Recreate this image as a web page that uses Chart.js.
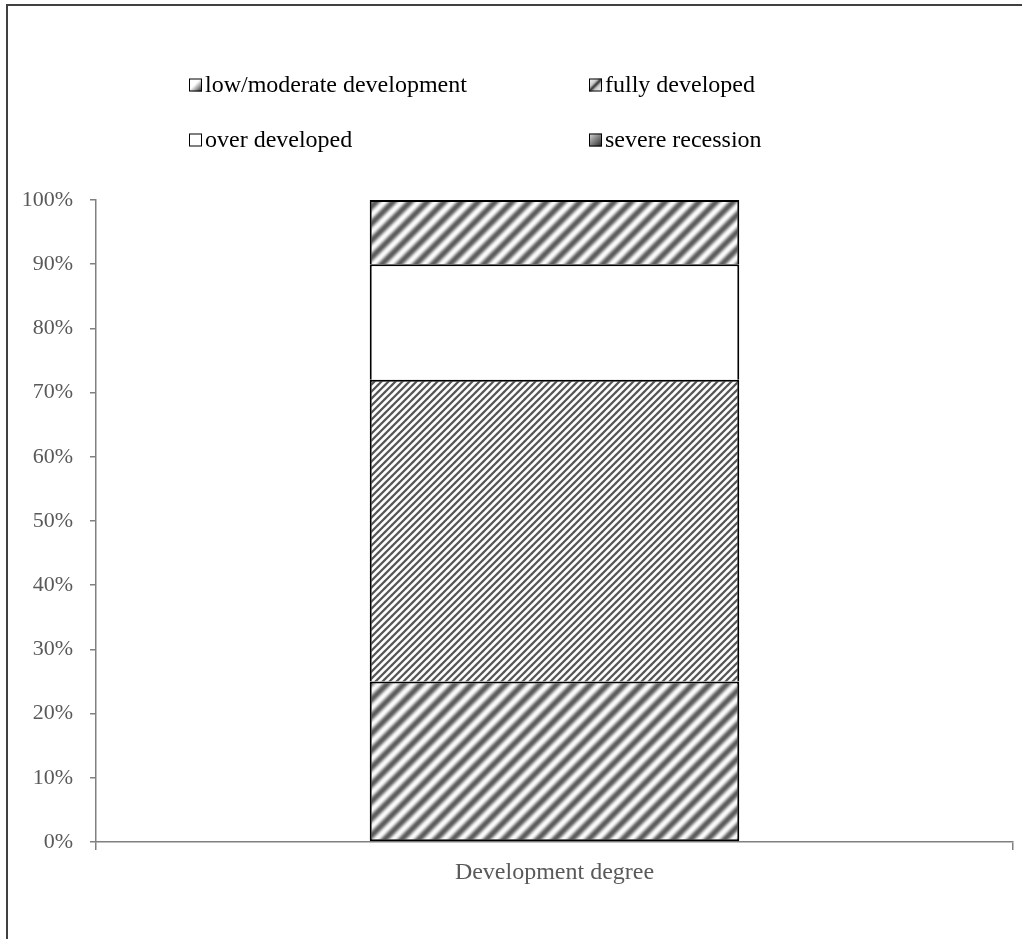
<!DOCTYPE html>
<html>
<head>
<meta charset="utf-8">
<script src="https://cdn.jsdelivr.net/npm/chart.js@4/dist/chart.umd.min.js"></script>
<style>
  html, body { margin: 0; padding: 0; background: #fff; }
  #wrap { width: 1022px; height: 939px; position: relative; }
</style>
</head>
<body>
<div id="wrap"><canvas id="c" width="1022" height="939"></canvas></div>
<script>
// Category and stacked shares (%)
const categories = ['Development degree'];
const seriesLabels = ['low/moderate development', 'fully developed', 'over developed', 'severe recession'];
const lowModerate = [25];
const fullyDeveloped = [47];
const overDeveloped = [18];
const severeRecession = [10];

const FONT = '"Liberation Serif", "Times New Roman", serif';

// Diagonal "/" stripe pattern with soft edges, built on an oversized tile then cropped
function stripePattern(period, lineWidth, color, blur) {
  const big = document.createElement('canvas');
  big.width = big.height = period * 3;
  const b = big.getContext('2d');
  b.fillStyle = '#fff';
  b.fillRect(0, 0, big.width, big.height);
  if (blur) b.filter = 'blur(' + blur + 'px)';
  b.strokeStyle = color;
  b.lineWidth = lineWidth;
  for (let k = -4; k <= 4; k++) {
    b.beginPath();
    b.moveTo(k * period, period * 3);
    b.lineTo(k * period + period * 3, 0);
    b.stroke();
  }
  const tile = document.createElement('canvas');
  tile.width = tile.height = period;
  tile.getContext('2d').drawImage(big, period, period, period, period, 0, 0, period, period);
  return tile.getContext('2d').createPattern(tile, 'repeat');
}

const wideStripes = stripePattern(17, 6, '#555', 1.4);
const fineStripes = stripePattern(7, 2.3, '#555', 0.6);

// Outer frame (top and left edges)
const framePlugin = {
  id: 'frame',
  beforeDraw(chart) {
    const ctx = chart.ctx;
    ctx.save();
    ctx.fillStyle = '#fff';
    ctx.fillRect(0, 0, chart.width, chart.height);
    ctx.strokeStyle = '#404040';
    ctx.lineWidth = 2;
    ctx.beginPath();
    ctx.moveTo(7, chart.height);
    ctx.lineTo(7, 5);
    ctx.lineTo(chart.width, 5);
    ctx.stroke();
    ctx.restore();
  }
};

// Two-column legend with small shaded swatches
const legendPlugin = {
  id: 'gridLegend',
  afterDraw(chart) {
    const ctx = chart.ctx;
    const cols = [189, 589];
    const rows = [85, 140];
    const box = 13;
    ctx.save();
    ctx.font = '24px ' + FONT;
    ctx.textBaseline = 'middle';
    ctx.textAlign = 'left';
    chart.data.datasets.forEach((ds, i) => {
      const x = cols[i % 2];
      const y = rows[Math.floor(i / 2)];
      const top = y - box / 2;
      let fill = '#fff';
      if (i === 0) {
        const g = ctx.createLinearGradient(x, top, x + box, top + box);
        g.addColorStop(0, '#fff'); g.addColorStop(0.45, '#fff'); g.addColorStop(1, '#222');
        fill = g;
      } else if (i === 1) {
        const g = ctx.createLinearGradient(x, top, x + box, top + box);
        g.addColorStop(0, '#fff'); g.addColorStop(0.35, '#ccc'); g.addColorStop(0.5, '#333');
        g.addColorStop(0.65, '#ccc'); g.addColorStop(1, '#fff');
        fill = g;
      } else if (i === 3) {
        const g = ctx.createLinearGradient(x, top, x + box, top + box);
        g.addColorStop(0, '#ddd'); g.addColorStop(1, '#222');
        fill = g;
      }
      ctx.fillStyle = fill;
      ctx.fillRect(x, top, box, box);
      ctx.strokeStyle = '#000';
      ctx.lineWidth = 1;
      ctx.strokeRect(x + 0.5, top + 0.5, box - 1, box - 1);
      ctx.fillStyle = '#000';
      ctx.fillText(ds.label, x + box + 3, y + 1);
    });
    ctx.restore();
  }
};

// Lower segment draws the full outline; upper segments share its top edge
const baseStyle = { borderColor: '#000', borderWidth: 2,
  categoryPercentage: 1, barPercentage: 0.403 };
const firstStyle = Object.assign({ borderSkipped: false }, baseStyle);
const upperStyle = Object.assign({ borderSkipped: 'bottom' }, baseStyle);

new Chart(document.getElementById('c'), {
  type: 'bar',
  data: {
    labels: categories,
    datasets: [
      Object.assign({ label: seriesLabels[0], data: lowModerate, backgroundColor: wideStripes }, firstStyle),
      Object.assign({ label: seriesLabels[1], data: fullyDeveloped, backgroundColor: fineStripes }, upperStyle),
      Object.assign({ label: seriesLabels[2], data: overDeveloped, backgroundColor: '#fff' }, upperStyle),
      Object.assign({ label: seriesLabels[3], data: severeRecession, backgroundColor: wideStripes }, upperStyle)
    ]
  },
  options: {
    responsive: false,
    animation: false,
    layout: { padding: { top: 200, right: 9, bottom: 0, left: 0 } },
    plugins: { legend: { display: false }, tooltip: { enabled: false } },
    scales: {
      x: {
        stacked: true,
        afterFit(scale) { scale.height = 97; },
        grid: { display: true, drawOnChartArea: false, drawTicks: true, tickLength: 8,
          color: '#808080', lineWidth: 1.5, offset: true },
        border: { display: true, color: '#808080', width: 1.5 },
        ticks: { color: '#595959', font: { family: FONT, size: 24 }, padding: 8 }
      },
      y: {
        stacked: true,
        min: 0, max: 100,
        afterFit(scale) { scale.width = 96; },
        grid: { display: true, drawOnChartArea: false, drawTicks: true, tickLength: 6,
          color: '#808080', lineWidth: 1.5 },
        border: { display: true, color: '#808080', width: 1.5 },
        ticks: { stepSize: 10, color: '#595959', font: { family: FONT, size: 22 }, padding: 17,
          callback: v => v + '%' }
      }
    }
  },
  plugins: [framePlugin, legendPlugin]
});
</script>
</body>
</html>
